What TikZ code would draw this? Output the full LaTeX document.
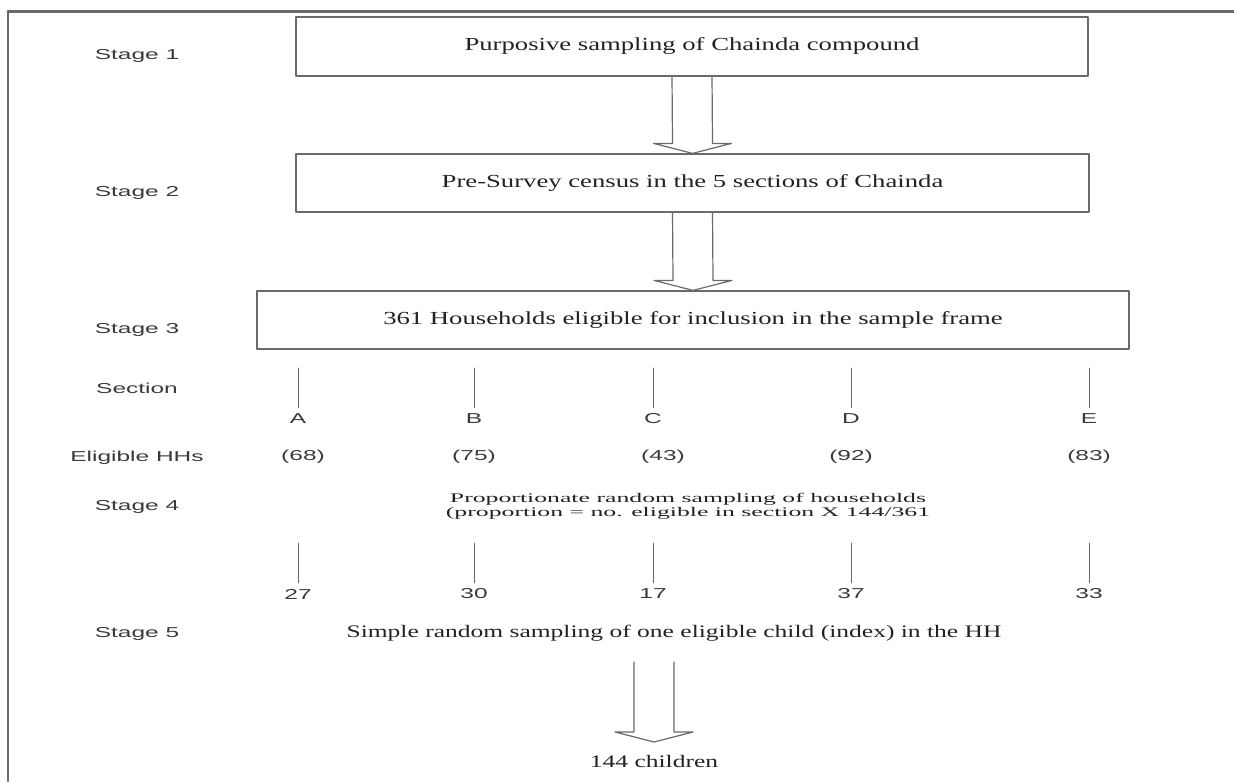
\documentclass[tikz,border=0pt]{standalone}
\usepackage{fontspec}
\newfontfamily\boxfont{Liberation Serif}[FakeStretch=1.45]
\newfontfamily\propfont{Liberation Serif}[FakeStretch=1.95]
\newfontfamily\labelfont{Liberation Sans}[FakeStretch=1.7]
\usetikzlibrary{calc}
\definecolor{inkgray}{HTML}{222222}
\definecolor{labgray}{HTML}{3A3A3A}
\definecolor{linegray}{HTML}{6A6A6A}
\tikzset{stagebox/.style={draw=linegray, line width=0.6pt, inner sep=0pt,
		font=\boxfont\fontsize{9.2}{9.2}\selectfont, text=inkgray},
	stagelabel/.style={font=\labelfont\fontsize{7.2}{7.2}\selectfont, text=labgray, inner sep=1pt},
	serifnote/.style={font=\boxfont\fontsize{8.8}{8.8}\selectfont, text=inkgray, inner sep=1pt},
	secline/.style={draw=linegray, line width=0.5pt},
	arrowline/.style={draw=linegray, line width=0.6pt},
}
% hollow block arrow: #1 top of shaft, #2 tip
\newcommand\hollowarrow[2]{%
	\draw[arrowline] ($(#1)+(-20,0)$) -- ($(#2)+(-20,-10)$) -- ($(#2)+(-39,-10)$)
	-- (#2) -- ($(#2)+(39,-10)$) -- ($(#2)+(20,-10)$) -- ($(#1)+(20,0)$);}

\begin{document}
\begin{tikzpicture}[x=0.5pt,y=-0.5pt,line cap=round,line join=round]
	\useasboundingbox (0,0) rectangle (1234,781);
	\draw[draw=linegray, line width=1.1pt] (8,781) -- (8,12);
	\draw[draw=linegray, line width=1.5pt] (8,12) -- (1234,12);
	
	% stage boxes
	\node[stagebox, minimum width=396pt, minimum height=29.5pt] (purp) at (692,46.5)
	{Purposive sampling of Chainda compound};
	\node[stagebox, minimum width=396.5pt, minimum height=29pt] (census) at (692.5,183)
	{Pre-Survey census in the 5 sections of Chainda};
	\node[stagebox, minimum width=436pt, minimum height=29pt] (frame) at (693,320)
	{361 Households eligible for inclusion in the sample frame};
	\hollowarrow{purp.south}{census.north}
	\hollowarrow{census.south}{frame.north}
	
	% row labels
	\foreach \nm/\lab/\y in {st1/Stage 1/56, st2/Stage 2/193, st3/Stage 3/330,
		sect/Section/388, elig/Eligible HHs/458, st4/Stage 4/507, st5/Stage 5/634}
	\node[stagelabel] (\nm) at (137,\y) {\lab};
	
	% sections, eligible households and sample sizes
	\foreach \s/\x/\hx/\hh/\k in {A/298/303/68/27, B/474/474/75/30, C/653/663/43/17,
		D/851/851/92/37, E/1089/1089/83/33}{
		\coordinate (up\s) at (\x,368);
		\node[stagelabel] (sec\s) at (\x,419) {\s};
		\draw[secline, shorten >=2pt] (up\s) -- (sec\s.north);
		\node[stagelabel] (hh\s) at (\hx,457) {(\hh)};
		\coordinate (lo\s) at (\x,543);
		\node[stagelabel] (n\s) at (\x,594) {\k};
		\draw[secline, shorten >=2pt] (lo\s) -- (n\s.north);
	}
	
	\node[align=center, text=inkgray, inner sep=1pt,
	font=\propfont\fontsize{6.6}{7}\selectfont] (prop) at (688,506)
	{Proportionate random sampling of households\\(proportion = no. eligible in section X 144/361};
	\node[serifnote] (simple) at (674,633)
	{Simple random sampling of one eligible child (index) in the HH};
	\coordinate (kidtop) at (654,662);
	\coordinate (kidtip) at (654,742);
	\hollowarrow{kidtop}{kidtip}
	\node[serifnote] (kids) at (654,761) {144 children};
\end{tikzpicture}
\end{document}
